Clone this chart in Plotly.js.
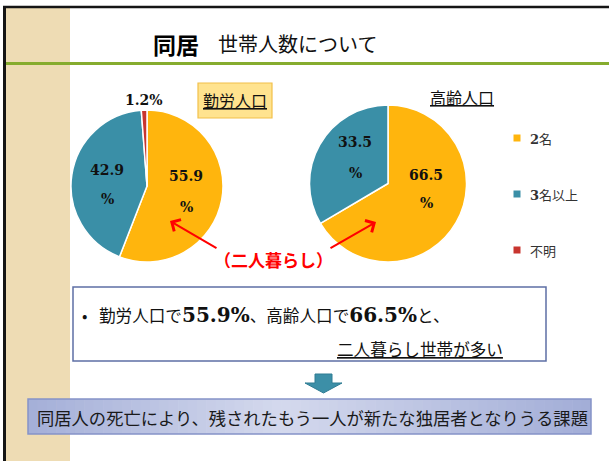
<!DOCTYPE html>
<html><head><meta charset="utf-8">
<script src="https://cdn.plot.ly/plotly-3.0.1.min.js"></script>
<style>html,body{margin:0;padding:0;background:#fff}#chart{width:609px;height:461px}</style>
</head><body><div id="chart"></div>
<script>
// ---- data ----
const categories = ['2名', '3名以上', '不明'];
const workerValues = [55.9, 42.9, 1.2];
const elderlyValues = [66.5, 33.5];
const sliceColors = ['#FFB50D', '#3A8FA7', '#C8352F'];
const titleMain = '同居';
const titleSub = '世帯人数について';
const pieTitles = ['勤労人口', '高齢人口'];
const calloutText = '（二人暮らし）';
const conclusionText = '同居人の死亡により、残されたもう一人が新たな独居者となりうる課題';
const summaryTail = '二人暮らし世帯が多い';

// ---- helpers ----
const W = 609, H = 461;
const px = x => x / W;
const py = y => 1 - y / H;
const JP = '"Noto Sans CJK JP", "Noto Sans", sans-serif';
const SERIF = '"DejaVu Serif", "Liberation Serif", serif';
const fmt = v => v.toFixed(1);

const shapes = [];
const annotations = [];
function rect(x0, y0, x1, y1, fill, line, lw, layer) {
  shapes.push({type: 'rect', xref: 'paper', yref: 'paper', x0: px(x0), x1: px(x1), y0: py(y1), y1: py(y0),
    fillcolor: fill || 'rgba(0,0,0,0)', line: {color: line || 'rgba(0,0,0,0)', width: lw || 0}, layer: layer || 'below'});
}
function line(x0, y0, x1, y1, color, w) {
  shapes.push({type: 'line', xref: 'paper', yref: 'paper', x0: px(x0), x1: px(x1), y0: py(y0), y1: py(y1),
    line: {color: color, width: w}, layer: 'below'});
}
function text(t, x, y, size, color, family, xanchor, extra) {
  annotations.push(Object.assign({text: t, xref: 'paper', yref: 'paper', x: px(x), y: py(y), showarrow: false,
    xanchor: xanchor || 'center', yanchor: 'middle', font: {size: size, color: color || '#000', family: family || JP}}, extra || {}));
}
function lerp(a, b, t) { return Math.round(a + (b - a) * t); }
function hex(c) { return [parseInt(c.slice(1,3),16), parseInt(c.slice(3,5),16), parseInt(c.slice(5,7),16)]; }
function grad(stops, t) {
  for (let i = 0; i < stops.length - 1; i++) {
    const [p0, c0] = stops[i], [p1, c1] = stops[i+1];
    if (t <= p1) { const u = (t - p0) / (p1 - p0); const a = hex(c0), b = hex(c1);
      return `rgb(${lerp(a[0],b[0],u)},${lerp(a[1],b[1],u)},${lerp(a[2],b[2],u)})`; }
  }
  return stops[stops.length-1][1];
}

// ---- slide decoration ----
rect(6, 8, 70, 461, '#EEDCB4');
line(6, 63.5, 609, 63.5, '#86AC2E', 3);
line(3, 7, 609, 7, '#151515', 2.5);
line(4.5, 6, 4.5, 461, '#151515', 3);

// title
text('<b>' + titleMain + '</b>', 151, 44, 23, '#000', JP, 'left');
text(titleSub, 216, 44, 20, '#111', JP, 'left');

// pie titles
rect(198, 83, 272, 118, '#FFE38F', '#F2C04A', 1.2);
text('<u>' + pieTitles[0] + '</u>', 235, 100, 16, '#111');
text('<u>' + pieTitles[1] + '</u>', 462, 97, 16, '#111');

// slice labels
const lbl = (v, x, y1, y2) => { text('<b>' + fmt(v) + '</b>', x, y1, 14, '#111', SERIF); text('<b>%</b>', x, y2, 14, '#111', SERIF); };
lbl(workerValues[0], 186, 176, 207);
lbl(workerValues[1], 107, 170, 199);
text('<b>' + fmt(workerValues[2]) + '%</b>', 143.5, 100, 14, '#111', SERIF);
lbl(elderlyValues[1], 355, 142, 173);
lbl(elderlyValues[0], 426, 175, 203);

// legend (manual, generous spacing like the source)
const legY = [138, 194, 250];
categories.forEach((c, i) => {
  rect(513.5, legY[i] - 3.5, 520.5, legY[i] + 3.5, sliceColors[i]);
  const styled = c.replace(/(\d)/g, '<span style="font-family:' + SERIF.replace(/"/g, "'") + ';font-weight:bold">$1</span>');
  text(styled, 528, legY[i], 13, '#333', JP, 'left');
});

// callout
text('<b>' + calloutText + '</b>', 273, 259, 17, '#FF0000');
annotations.push({text: '', xref: 'paper', yref: 'paper', x: px(170), y: py(221), ax: 48, ay: 28, showarrow: true,
  arrowhead: 4, arrowsize: 1.3, arrowwidth: 2, arrowcolor: '#FF0000', standoff: 0});
annotations.push({text: '', xref: 'paper', yref: 'paper', x: px(376), y: py(222), ax: -47, ay: 27, showarrow: true,
  arrowhead: 4, arrowsize: 1.3, arrowwidth: 2, arrowcolor: '#FF0000', standoff: 0});

// summary box
rect(73, 287, 546, 361, '#FFFFFF', '#5D6FA5', 1.5);
const bigNum = v => '<span style="font-family:' + SERIF.replace(/"/g, "'") + ';font-size:20px;font-weight:bold">' + fmt(v) + '%</span>';
text('•', 84, 315, 16, '#111', JP, 'center');
text(pieTitles[0] + 'で' + bigNum(workerValues[0]) + '、' + pieTitles[1] + 'で' + bigNum(elderlyValues[0]) + 'と、',
  97, 315, 16.6, '#111', JP, 'left');
text('<u>' + summaryTail + '</u>', 335, 349, 16.6, '#111', JP, 'left');

// down arrow
const pth = pts => 'M' + pts.map(p => px(p[0]) + ',' + py(p[1])).join(' L') + ' Z';
shapes.push({type: 'path', xref: 'paper', yref: 'paper', layer: 'below',
  path: pth([[315,374],[332,374],[332,383],[342,383],[323.5,393],[305,383],[315,383]]),
  fillcolor: '#3C8FA7', line: {color: '#2F7C93', width: 1}});

// conclusion box with horizontal gradient
const gx0 = 28, gx1 = 591, N = 60;
const stops = [[0, '#A4AFD8'], [0.45, '#D4D9ED'], [1, '#A2ADD7']];
for (let i = 0; i < N; i++) {
  const a = gx0 + (gx1 - gx0) * i / N, b = gx0 + (gx1 - gx0) * (i + 1) / N + 0.6;
  rect(a, 399, Math.min(b, gx1), 434, grad(stops, (i + 0.5) / N));
}
rect(gx0, 399, gx1, 434, null, '#8593C8', 1.5);
text(conclusionText, 35, 417, 17.3, '#1a1a1a', JP, 'left');

// ---- pies ----
const common = {type: 'pie', sort: false, direction: 'clockwise', rotation: 0, textinfo: 'none',
  hoverinfo: 'label+percent', showlegend: false};
const data = [
  Object.assign({}, common, {values: workerValues, labels: categories,
    marker: {colors: sliceColors, line: {color: '#FFFFFF', width: 1.5}},
    domain: {x: [px(71), px(223)], y: [py(262), py(110)]}}),
  Object.assign({}, common, {values: elderlyValues, labels: categories.slice(0, 2),
    marker: {colors: sliceColors.slice(0, 2), line: {color: '#FFFFFF', width: 1.5}},
    domain: {x: [px(309.5), px(466.5)], y: [py(262), py(105)]}})
];

const layout = {width: W, height: H, margin: {l: 0, r: 0, t: 0, b: 0}, autosize: false,
  paper_bgcolor: '#FFFFFF', plot_bgcolor: '#FFFFFF', showlegend: false,
  font: {family: JP}, shapes: shapes, annotations: annotations};

Plotly.newPlot('chart', data, layout, {displayModeBar: false, staticPlot: true});
</script></body></html>
